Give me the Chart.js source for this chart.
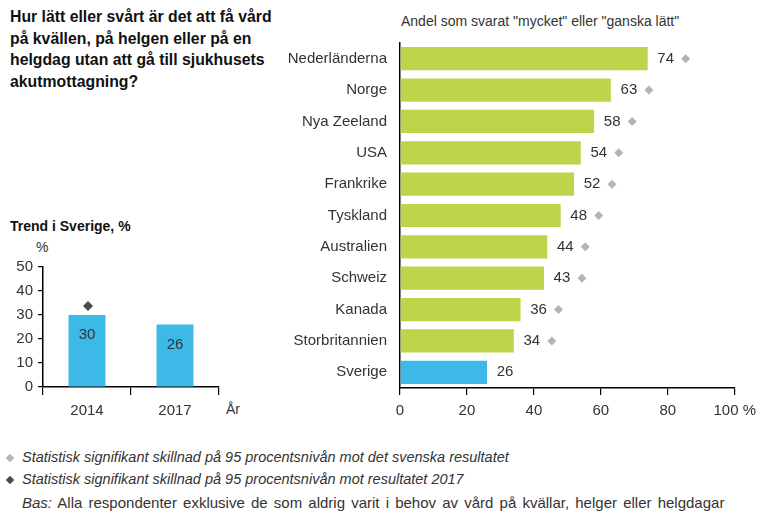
<!DOCTYPE html>
<html lang="sv">
<head>
<meta charset="utf-8">
<script src="https://cdn.jsdelivr.net/npm/chart.js@4"></script>
<style>
  body { margin: 0; width: 763px; height: 513px; position: relative; background: #fff; font-family: "Liberation Sans", Arial, sans-serif; color: #222; overflow: hidden; }
  .txt { position: absolute; white-space: nowrap; }
  #title { left: 10px; top: 6px; font-size: 15.8px; font-weight: bold; line-height: 21.5px; color: #111; }
  #subtitle { left: 401px; top: 13px; font-size: 14px; color: #333; }
  #trendTitle { left: 10px; top: 218px; font-size: 14px; font-weight: bold; color: #111; }
  #pct { left: 36px; top: 239px; font-size: 14px; color: #333; }
  #ar { left: 226px; top: 401px; font-size: 14px; color: #333; }
  .note { left: 22px; font-size: 14.5px; color: #333; }
  .note i { font-style: italic; }
  .dia { position: absolute; width: 6px; height: 6px; transform: rotate(45deg); }
  #mainWrap { position: absolute; left: 270px; top: 0; }
  #trendWrap { position: absolute; left: 0; top: 250px; }
</style>
</head>
<body>
<div id="title" class="txt">Hur lätt eller svårt är det att få vård<br>på kvällen, på helgen eller på en<br>helgdag utan att gå till sjukhusets<br>akutmottagning?</div>
<div id="subtitle" class="txt">Andel som svarat "mycket" eller "ganska lätt"</div>
<div id="trendTitle" class="txt">Trend i Sverige, %</div>
<div id="pct" class="txt">%</div>
<div id="ar" class="txt">År</div>

<div id="mainWrap"><canvas id="mainChart" width="493" height="425"></canvas></div>
<div id="trendWrap"><canvas id="trendChart" width="230" height="175"></canvas></div>

<div class="dia" style="left:7px; top:455px; background:#b4b4b4;"></div>
<div class="txt note" style="top:449px;"><i>Statistisk signifikant skillnad på 95 procentsnivån mot det svenska resultatet</i></div>
<div class="dia" style="left:7px; top:477px; background:#4a4a4a;"></div>
<div class="txt note" style="top:471px;"><i>Statistisk signifikant skillnad på 95 procentsnivån mot resultatet 2017</i></div>
<div class="txt note" style="top:494px; font-size:15px; word-spacing:2px;"><i>Bas:</i> Alla respondenter exklusive de som aldrig varit i behov av vård på kvällar, helger eller helgdagar</div>

<script>
const countries = ['Nederländerna', 'Norge', 'Nya Zeeland', 'USA', 'Frankrike', 'Tyskland', 'Australien', 'Schweiz', 'Kanada', 'Storbritannien', 'Sverige'];
const shares = [74, 63, 58, 54, 52, 48, 44, 43, 36, 34, 26];
const sigVsSweden = [true, true, true, true, true, true, true, true, true, true, false];

const years = ['2014', '2017'];
const swedenTrend = [30, 26];
const sigVs2017 = [true, false];

const xTicks = [0, 20, 40, 60, 80, 100];
const trendTicks = [0, 10, 20, 30, 40, 50];

const GREEN = '#bdd44b';
const BLUE = '#3db9e8';
const TEXT = '#333';
const FONT = '"Liberation Sans", Arial, sans-serif';

function diamond(ctx, x, y, r, color) {
    ctx.save();
    ctx.fillStyle = color;
    ctx.beginPath();
    ctx.moveTo(x, y - r);
    ctx.lineTo(x + r, y);
    ctx.lineTo(x, y + r);
    ctx.lineTo(x - r, y);
    ctx.closePath();
    ctx.fill();
    ctx.restore();
}

// value labels + diamonds next to the bars
const barLabels = {
    id: 'barLabels',
    afterDatasetsDraw(chart) {
        const ctx = chart.ctx;
        chart.getDatasetMeta(0).data.forEach((bar, i) => {
            ctx.save();
            ctx.font = '15px ' + FONT;
            ctx.fillStyle = TEXT;
            ctx.textAlign = 'center';
            ctx.textBaseline = 'middle';
            ctx.fillText(shares[i], bar.x + 18, bar.y);
            ctx.restore();
            if (sigVsSweden[i]) diamond(ctx, bar.x + 38, bar.y, 4.5, '#b4b4b4');
        });
    }
};

const trendLabels = {
    id: 'trendLabels',
    afterDatasetsDraw(chart) {
        const ctx = chart.ctx;
        chart.getDatasetMeta(0).data.forEach((bar, i) => {
            ctx.save();
            ctx.font = '15px ' + FONT;
            ctx.fillStyle = TEXT;
            ctx.textAlign = 'center';
            ctx.textBaseline = 'middle';
            ctx.fillText(swedenTrend[i], bar.x, bar.y + 20);
            ctx.restore();
            if (sigVs2017[i]) diamond(ctx, bar.x + 1, bar.y - 9, 5, '#4a4a4a');
        });
    }
};

new Chart(document.getElementById('mainChart'), {
    type: 'bar',
    data: {
        labels: countries,
        datasets: [{
            data: shares,
            backgroundColor: countries.map(c => c === 'Sverige' ? BLUE : GREEN),
            categoryPercentage: 1,
            barPercentage: 0.74
        }]
    },
    options: {
        indexAxis: 'y',
        responsive: false,
        animation: false,
        layout: { padding: { top: 43, right: 25, left: 0, bottom: 0 } },
        plugins: { legend: { display: false }, tooltip: { enabled: false } },
        scales: {
            x: {
                min: 0, max: 100,
                afterBuildTicks: s => { s.ticks = xTicks.map(v => ({ value: v })); },
                afterFit: s => { s.height = 37; },
                grid: { display: true, drawOnChartArea: false, drawTicks: true, tickLength: 7, color: '#000', lineWidth: 1.2 },
                border: { display: true, color: '#000', width: 1.5 },
                ticks: {
                    padding: 7, color: TEXT,
                    font: { family: FONT, size: 15 },
                    callback: v => v === 100 ? '100 %' : v
                }
            },
            y: {
                afterFit: s => { s.width = 130; },
                grid: { display: false, drawTicks: false },
                border: { display: true, color: '#000', width: 1.5 },
                ticks: { padding: 13, color: TEXT, font: { family: FONT, size: 15 } }
            }
        }
    },
    plugins: [barLabels]
});

new Chart(document.getElementById('trendChart'), {
    type: 'bar',
    data: {
        labels: years,
        datasets: [{
            data: swedenTrend,
            backgroundColor: BLUE,
            categoryPercentage: 1,
            barPercentage: 0.42
        }]
    },
    options: {
        responsive: false,
        animation: false,
        layout: { padding: { top: 17, right: 11, left: 0, bottom: 0 } },
        plugins: { legend: { display: false }, tooltip: { enabled: false } },
        scales: {
            x: {
                afterFit: s => { s.height = 38; },
                grid: { display: true, offset: true, drawOnChartArea: false, tickLength: 8, color: '#000', lineWidth: 1.2 },
                border: { display: true, color: '#000', width: 1.5 },
                ticks: { padding: 7, color: TEXT, font: { family: FONT, size: 15 } }
            },
            y: {
                min: 0, max: 50,
                afterBuildTicks: s => { s.ticks = trendTicks.map(v => ({ value: v })); },
                afterFit: s => { s.width = 43; },
                grid: { display: true, drawOnChartArea: false, tickLength: 5, color: '#000', lineWidth: 1.2 },
                border: { display: true, color: '#000', width: 1.5 },
                ticks: { padding: 5, color: TEXT, font: { family: FONT, size: 15 } }
            }
        }
    },
    plugins: [trendLabels]
});
</script>
</body>
</html>
